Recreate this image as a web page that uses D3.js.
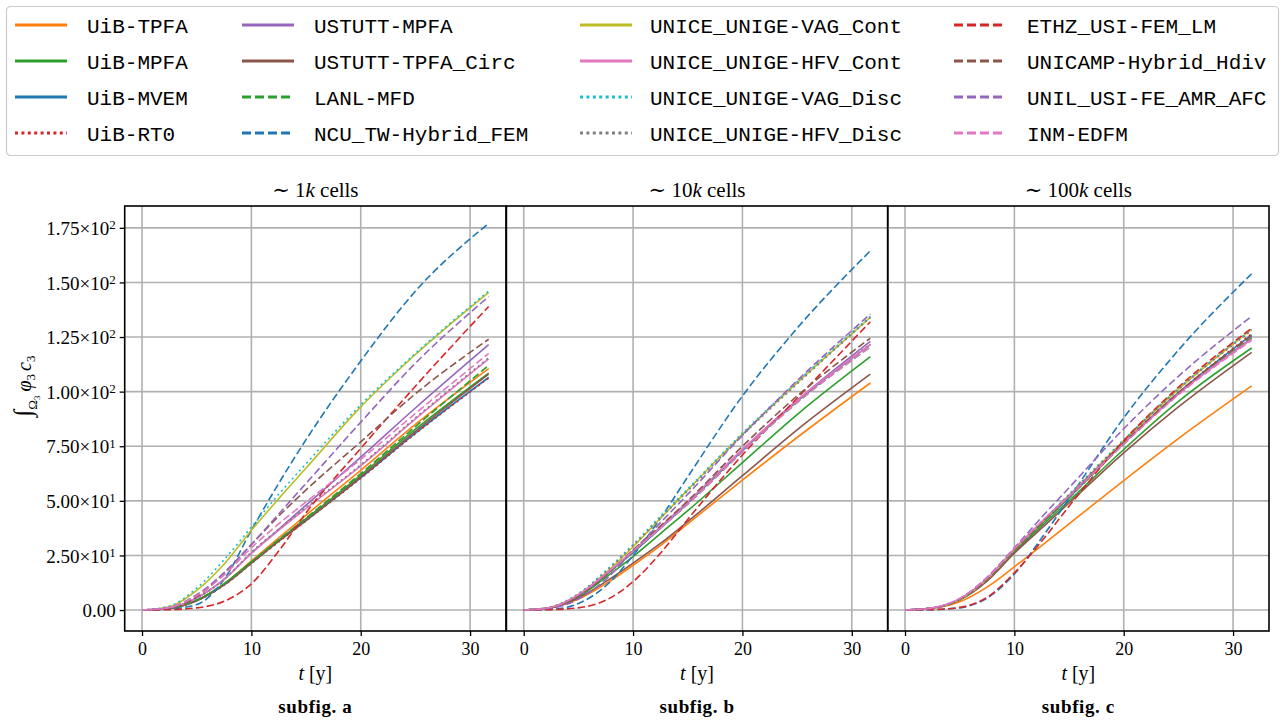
<!DOCTYPE html>
<html><head><meta charset="utf-8">
<script src="https://cdn.jsdelivr.net/npm/d3@7"></script>
<style>body{margin:0;background:#fff} svg{display:block}</style>
</head><body><svg id="c" width="1282" height="722"></svg>
<script>
// ---------- data ----------
const times = [0, 2.5, 5, 7.5, 10, 12.5, 15, 20, 25, 31.7];
const methods = ["UiB-TPFA","UiB-MPFA","UiB-MVEM","UiB-RT0","USTUTT-MPFA","USTUTT-TPFA_Circ",
  "LANL-MFD","NCU_TW-Hybrid_FEM","UNICE_UNIGE-VAG_Cont","UNICE_UNIGE-HFV_Cont",
  "UNICE_UNIGE-VAG_Disc","UNICE_UNIGE-HFV_Disc","ETHZ_USI-FEM_LM","UNICAMP-Hybrid_Hdiv",
  "UNIL_USI-FE_AMR_AFC","INM-EDFM"];
const panelCells = ["1", "10", "100"];
const subfigLetters = ["a", "b", "c"];
const xTicks = [0, 10, 20, 30];
const yTicks = [0, 25, 50, 75, 100, 125, 150, 175];

// ~1k cells
const values1k = [
  [0,0.8,4.5,12,22.5,33,43.5,64,85,110.5],
  [0,0.8,4.5,12,22,32,41.8,61.8,82.8,108.5],
  [0,0.7,4.2,11.5,21.5,31.5,41,60.5,81,106.5],
  [0,0.7,4.2,11.3,21.3,31.2,40.8,60.3,80.7,106.2],
  [0,1,5.5,14,26,37,48,70,92.5,121.5],
  [0,0.8,4.3,11.5,21.5,31.5,41,61,81.8,108],
  [0,0.8,4.5,12,22,32.2,42.2,62.5,84,112],
  [0,0.5,2.5,14,36.5,58,78,114,146,177],
  [0,1.5,9,21,36.5,51,65,93,117,145.5],
  [0,1,5.5,14,26,36.5,46.5,66,87.5,115],
  [0,1.8,10,23,38,53,67,94,117.5,146],
  [0,1,5.5,14,26.5,37,47,66.5,88,115.5],
  [0,0.2,1,4,12,27,44.5,74,102.5,139],
  [0,1,6,17,30,43,55,77,99,124],
  [0,1.2,7,17,30,44,58,86,113,143.5],
  [0,1.2,6.5,16,28.5,39.5,49.5,69,90,117.5]
];
// ~10k cells
const values10k = [
  [0,1,5,12,20.5,29.5,39.5,59.5,79,104],
  [0,1.1,6,15,24.5,35,45.5,67.5,89.5,116],
  [0,1.2,6.5,16,26.5,37.5,49,73,95.5,121.5],
  [0,1.2,6.5,16,26.5,37.5,49,73,95.5,121.8],
  [0,1.2,6.5,16,27,38,49.5,73.5,96,123],
  [0,1,5.5,13,21.5,30.5,40.5,61.5,82.5,108],
  [0,1.2,6.5,16,26.5,37.5,48.5,72.5,95,120.5],
  [0,0.3,3,11,25,42,61,98,129,164.5],
  [0,1.3,7,17,29,42,55,80.5,104,134],
  [0,1.3,7,16.5,27,38,49.5,73.5,96,121.5],
  [0,1.5,7.5,18,30,43,55.5,81,104.5,134.5],
  [0,1.4,7.3,17.5,29.5,42,54.5,80,103.5,134],
  [0,0.2,1,4.5,13,26,41.5,71,97,132],
  [0,1.2,6.5,16,27.5,38.5,50,75,98,124.5],
  [0,0.8,5,14,27,40,53,80,105,135.5],
  [0,1.3,7,16.5,27,37.5,48.5,72.5,95,120.5]
];
// ~100k cells
const values100k = [
  [0,0.8,3.8,10.5,19.8,29.5,39.5,59.3,78.5,102.6],
  [0,0.9,4.7,13.5,26.5,38.5,50,73.5,95.5,120],
  [0,0.9,4.8,13.8,27,39.5,51.5,76.5,99.5,126],
  [0,0.9,4.8,13.8,27,39.5,51.5,76.5,99.5,126.5],
  [0,0.9,5,14,27.5,40,52,76.5,99,124.5],
  [0,0.9,4.6,13.2,26,37.5,49,72,93,118],
  [0,0.9,4.8,13.8,27,39.5,51.5,76,99,124.5],
  [0,0.2,1,5.5,16.5,33,51,88,119,154],
  [0,0.8,4.8,14,27.5,40,52.5,77.5,101,128.5],
  [0,1,5.2,14.5,28,40.5,52.5,76.5,99,124],
  [0,0.9,5,14.3,28,40.5,53,78,101.5,128.5],
  [0,0.9,5,14.2,27.8,40.2,52.7,77.5,101,128],
  [0,0.2,1.2,5.8,17,31.5,47.5,77.5,102,129],
  [0,0.9,5,14,27.5,40,52,76.5,99.5,125.5],
  [0,0.8,5.2,15,28.5,42.5,56,83,107,134.5],
  [0,1,5.3,14.6,28,40.5,52,76,98.5,123.5]
];
const panelValues = [values1k, values10k, values100k];

// ---------- styles ----------
const colors = ["#ff7f0e","#2ca02c","#1f77b4","#d62728","#9467bd","#8c564b","#2ca02c","#1f77b4",
  "#bcbd22","#e377c2","#17becf","#7f7f7f","#d62728","#8c564b","#9467bd","#e377c2"];
const lineKinds = ["solid","solid","solid","dot","solid","solid","dash","dash",
  "solid","solid","dot","dot","dash","dash","dash","dash"];
const dashFor = k => k === "dash" ? "7.5,3.3" : (k === "dot" ? "2,3.4" : null);
const legendDashFor = k => k === "dash" ? "9,4" : (k === "dot" ? "3,3.4" : null);

const svg = d3.select("#c");
const serif = "'Liberation Serif', 'DejaVu Serif', serif";
const mono = "'Liberation Mono', 'DejaVu Sans Mono', monospace";

// ---------- legend ----------
const lg = svg.append("g");
lg.append("rect").attr("x", 6.5).attr("y", 6.5).attr("width", 1272).attr("height", 149)
  .attr("rx", 4).attr("fill", "#fff").attr("stroke", "#cccccc").attr("stroke-width", 1.2);
const colHandle = [15, 242, 580, 954];
const colText = [87, 314, 650, 1027];
const rowY = [25, 61, 97, 133];
methods.forEach((m, i) => {
  const c = Math.floor(i / 4), r = i % 4;
  lg.append("line").attr("x1", colHandle[c]).attr("x2", colHandle[c] + 52)
    .attr("y1", rowY[r]).attr("y2", rowY[r])
    .attr("stroke", colors[i]).attr("stroke-width", 2.8)
    .attr("stroke-dasharray", legendDashFor(lineKinds[i]));
  lg.append("text").attr("x", colText[c]).attr("y", rowY[r] + 7.5)
    .attr("font-family", mono).attr("font-size", 21).attr("fill", "#000")
    .text(m);
});

// ---------- panels ----------
const panelLeft = [124.7, 506.4, 887.7];
const panelW = 381.3, plotTop = 206, plotBottom = 631;
const y = d3.scaleLinear().domain([-9.6, 185]).range([plotBottom, plotTop]);

panelValues.forEach((vals, p) => {
  const x = d3.scaleLinear().domain([-1.585, 33.285]).range([panelLeft[p], panelLeft[p] + panelW]);
  const g = svg.append("g");
  const clipId = "clip" + p;
  svg.append("clipPath").attr("id", clipId).append("rect")
    .attr("x", panelLeft[p]).attr("y", plotTop).attr("width", panelW).attr("height", plotBottom - plotTop);

  // grid
  const grid = g.append("g").attr("clip-path", `url(#${clipId})`);
  xTicks.forEach(t => grid.append("line").attr("x1", x(t)).attr("x2", x(t)).attr("y1", plotTop).attr("y2", plotBottom)
    .attr("stroke", "#b0b0b0").attr("stroke-width", 1.6));
  yTicks.forEach(t => grid.append("line").attr("x1", panelLeft[p]).attr("x2", panelLeft[p] + panelW)
    .attr("y1", y(t)).attr("y2", y(t)).attr("stroke", "#b0b0b0").attr("stroke-width", 1.6));

  // lines
  const line = d3.line().x((d, i) => x(times[i])).y(d => y(d)).curve(d3.curveMonotoneX);
  const lines = g.append("g").attr("clip-path", `url(#${clipId})`);
  vals.forEach((series, i) => {
    lines.append("path").attr("d", line(series)).attr("fill", "none")
      .attr("stroke", colors[i]).attr("stroke-width", 1.6)
      .attr("stroke-dasharray", dashFor(lineKinds[i]));
  });

  // x axis
  const xa = g.append("g").attr("transform", `translate(0,${plotBottom})`)
    .call(d3.axisBottom(x).tickValues(xTicks).tickSize(5).tickPadding(6).tickFormat(d3.format("d")));
  xa.select(".domain").remove();
  xa.selectAll("line").attr("stroke", "#000").attr("stroke-width", 1.3);
  xa.selectAll("text").attr("font-family", serif).attr("font-size", 18).attr("fill", "#000");

  // y axis (only first panel labelled)
  if (p === 0) {
    const ya = g.append("g").attr("transform", `translate(${panelLeft[p]},0)`)
      .call(d3.axisLeft(y).tickValues(yTicks).tickSize(5).tickPadding(4).tickFormat(""));
    ya.select(".domain").remove();
    ya.selectAll("line").attr("stroke", "#000").attr("stroke-width", 1.3);
    ya.selectAll(".tick").each(function(v) {
      const t = d3.select(this).append("text").attr("x", -9).attr("y", 0).attr("dy", "0.35em")
        .attr("text-anchor", "end").attr("font-family", serif).attr("font-size", 19).attr("fill", "#000");
      if (v === 0) { t.text("0.00"); return; }
      const e = Math.floor(Math.log10(v));
      const mant = (v / Math.pow(10, e)).toFixed(2);
      t.append("tspan").text(mant + "×10");
      t.append("tspan").attr("dy", "-0.45em").attr("font-size", 13).text(String(e));
    });
  }

  // frame
  g.append("rect").attr("x", panelLeft[p]).attr("y", plotTop).attr("width", panelW).attr("height", plotBottom - plotTop)
    .attr("fill", "none").attr("stroke", "#000").attr("stroke-width", 1.6);

  const cx = panelLeft[p] + panelW / 2;
  // title
  const tt = g.append("text").attr("x", cx).attr("y", 197).attr("text-anchor", "middle")
    .attr("font-family", serif).attr("font-size", 21).attr("fill", "#000");
  tt.append("tspan").text("∼ " + panelCells[p]);
  tt.append("tspan").attr("font-style", "italic").text("k");
  tt.append("tspan").text(" cells");
  // x label
  const xl = g.append("text").attr("x", cx).attr("y", 680).attr("text-anchor", "middle")
    .attr("font-family", serif).attr("font-size", 20).attr("fill", "#000");
  xl.append("tspan").attr("font-style", "italic").text("t");
  xl.append("tspan").text(" [y]");
  // subfig label
  g.append("text").attr("x", cx).attr("y", 713).attr("text-anchor", "middle")
    .attr("font-family", serif).attr("font-size", 19).attr("font-weight", "bold")
    .attr("letter-spacing", 0.6).attr("fill", "#000")
    .text("subfig.  " + subfigLetters[p]);
});

// y label
const yl = svg.append("text").attr("transform", "translate(31,386) rotate(-90)")
  .attr("text-anchor", "middle").attr("font-family", serif).attr("font-size", 20).attr("fill", "#000");
yl.append("tspan").attr("font-size", 25).attr("font-style", "italic").text("∫");
yl.append("tspan").attr("font-size", 13).attr("dy", 6).text("Ω");
yl.append("tspan").attr("font-size", 9).attr("dy", 3).text("3");
yl.append("tspan").attr("dy", -9).attr("dx", 4).attr("font-style", "italic").text("φ");
yl.append("tspan").attr("font-size", 13).attr("dy", 4).text("3");
yl.append("tspan").attr("dy", -4).attr("dx", 3).attr("font-style", "italic").text("c");
yl.append("tspan").attr("font-size", 13).attr("dy", 4).text("3");
</script></body></html>
